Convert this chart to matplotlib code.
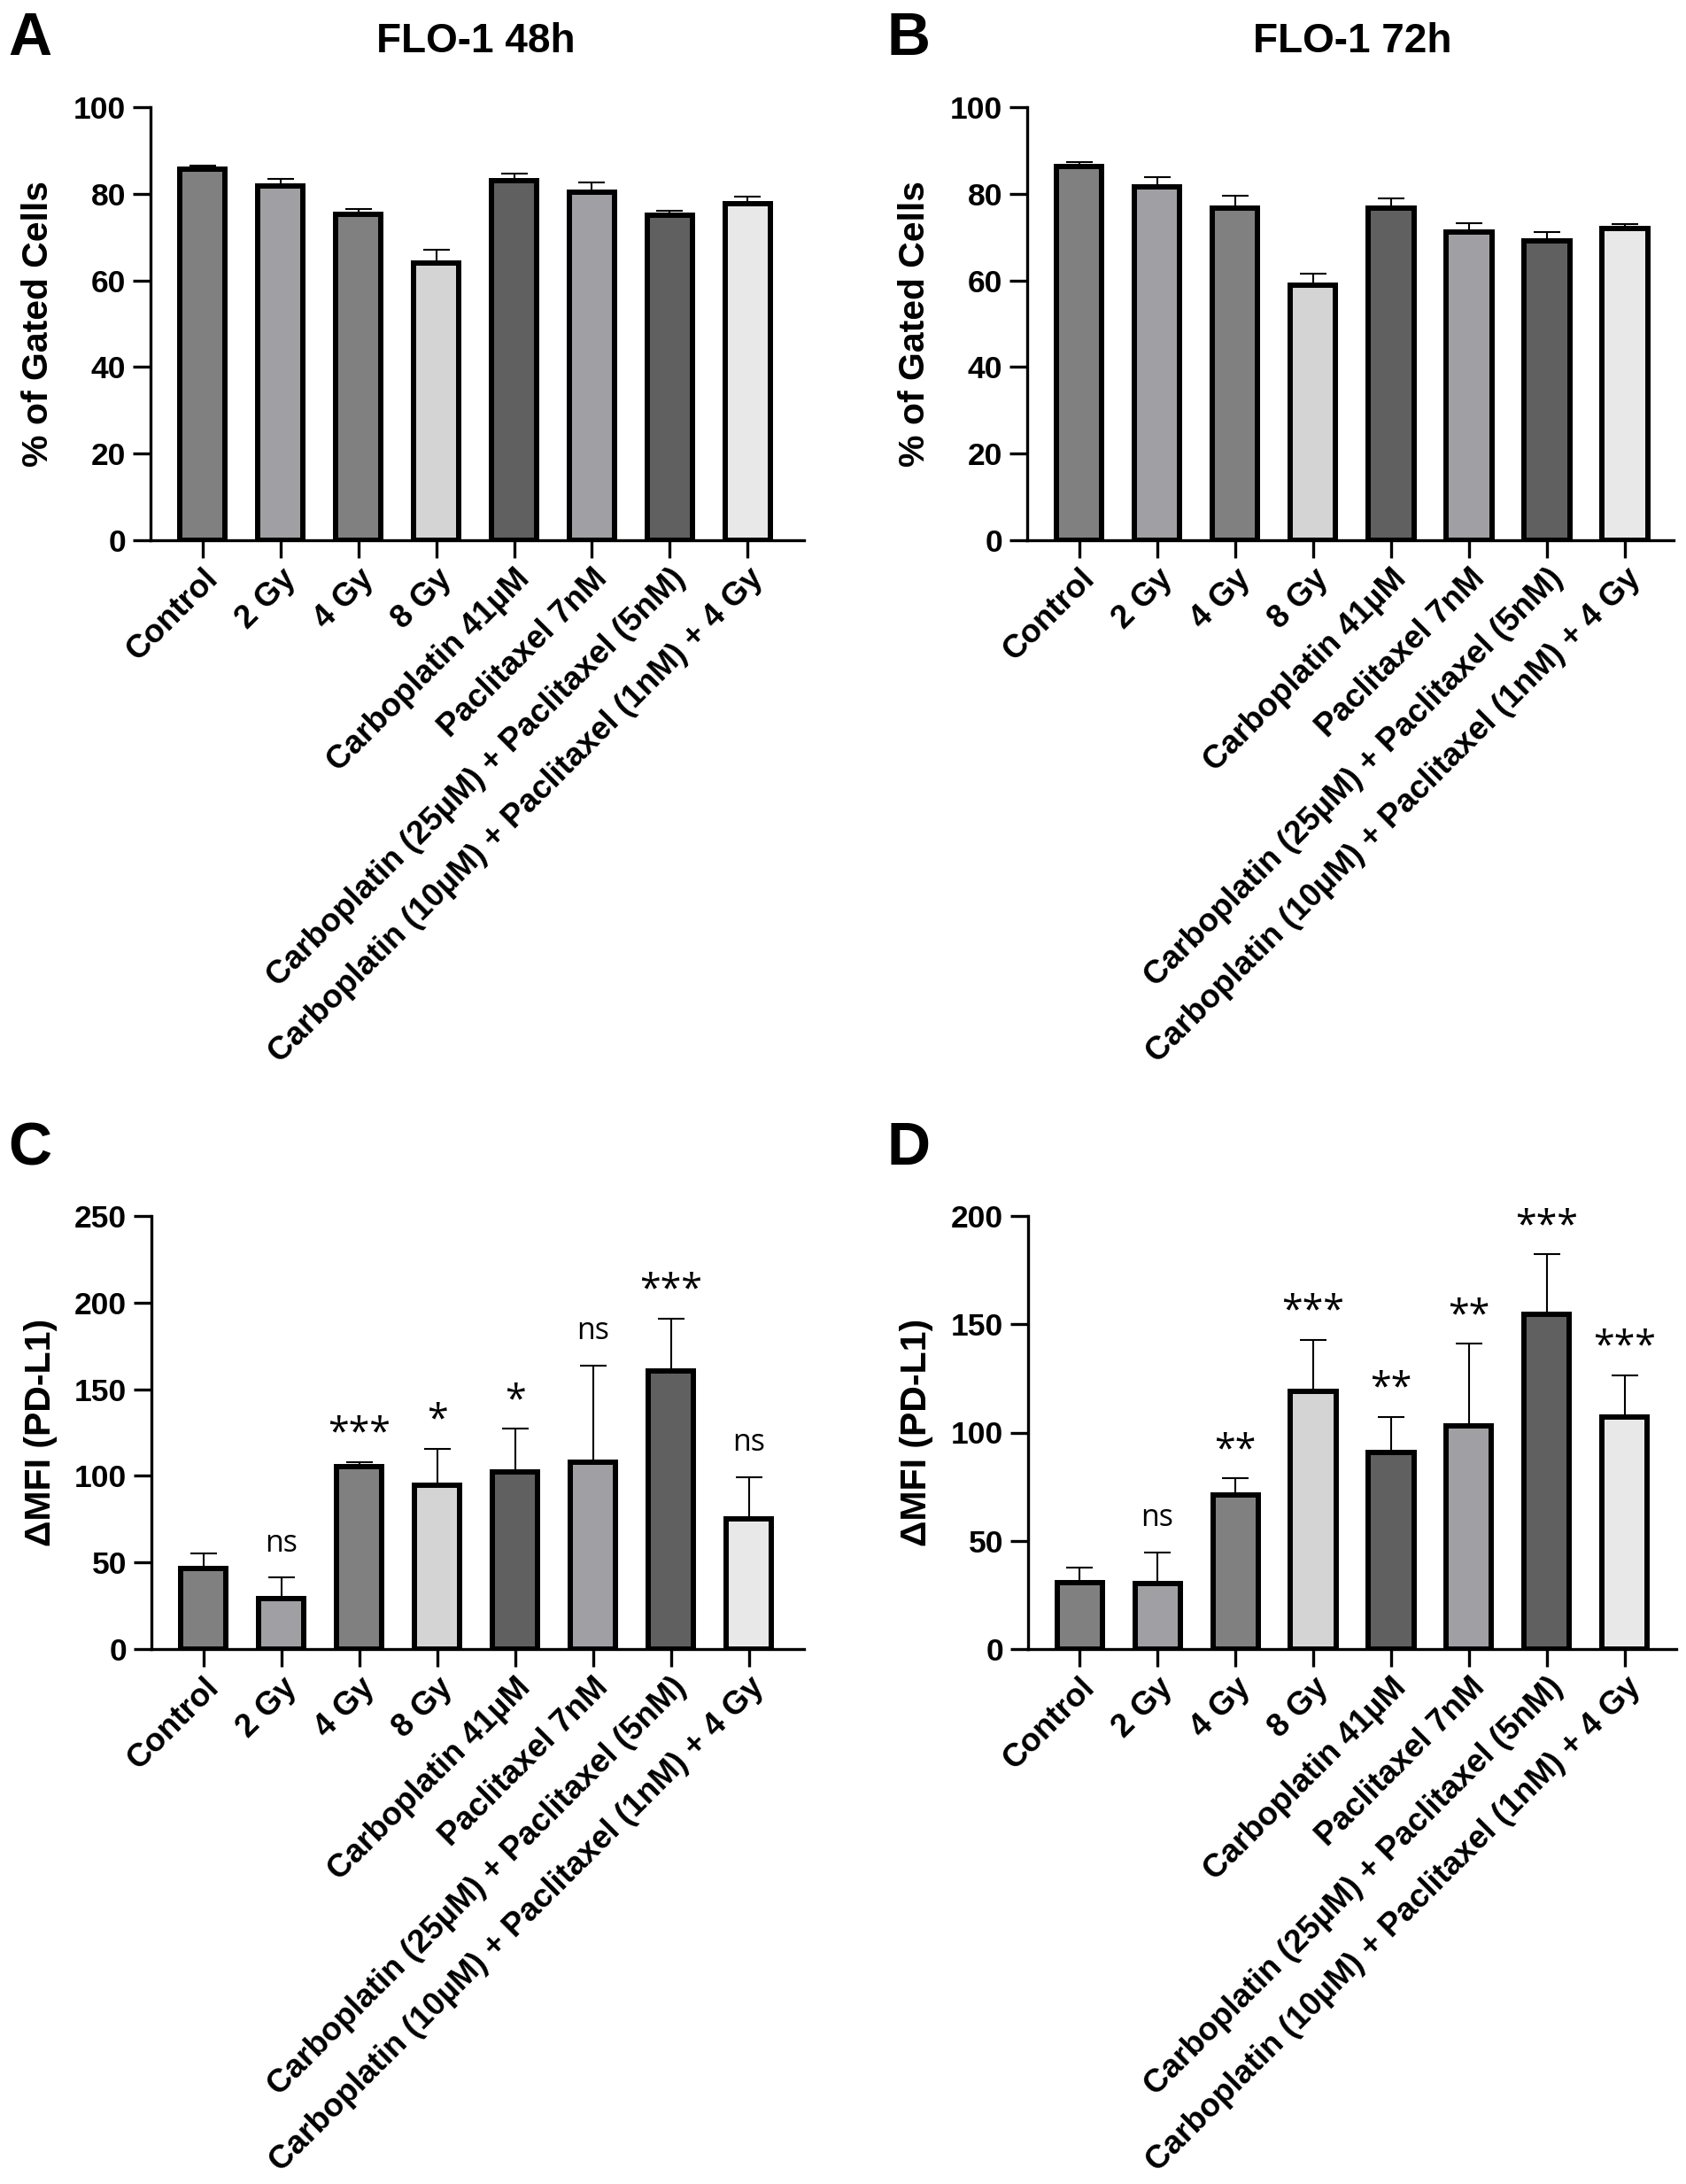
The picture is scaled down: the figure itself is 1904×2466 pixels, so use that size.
import numpy as np
import matplotlib
matplotlib.use('Agg')
import matplotlib.pyplot as plt
from matplotlib import transforms

# --- data ---
CATEGORIES = ['Control', '2 Gy', '4 Gy', '8 Gy', 'Carboplatin 41µM', 'Paclitaxel 7nM',
              'Carboplatin (25µM) + Paclitaxel (5nM)',
              'Carboplatin (10µM) + Paclitaxel (1nM) + 4 Gy']
BAR_COLORS = ['#808080', '#A0A0A4', '#808080', '#D4D4D4',
              '#606060', '#A0A0A4', '#606060', '#E8E8E8']

gated_48h = [85.6, 81.7, 75.2, 64.0, 83.0, 80.4, 75.1, 77.8]
gated_48h_sem = [1.0, 1.8, 1.2, 3.0, 1.7, 2.3, 0.9, 1.5]
gated_72h = [86.3, 81.5, 76.6, 58.8, 76.6, 71.2, 69.1, 71.9]
gated_72h_sem = [1.1, 2.4, 3.0, 2.8, 2.3, 2.0, 2.0, 1.2]

mfi_48h = [46.7, 29.3, 105.4, 94.8, 102.5, 107.7, 160.7, 75.3]
mfi_48h_sem = [8.7, 11.9, 2.6, 20.9, 24.7, 56.1, 30.1, 24.1]
mfi_72h = [30.7, 30.1, 71.2, 119.2, 91.0, 102.9, 154.5, 107.3]
mfi_72h_sem = [6.9, 14.6, 7.7, 23.6, 16.3, 38.0, 27.8, 19.2]

sig_48h = ['', 'ns', '***', '*', '*', 'ns', '***', 'ns']
sig_72h = ['', 'ns', '**', '***', '**', '**', '***', '***']

# --- figure setup ---
W, H, DPI = 1904, 2466, 100
plt.rcParams['font.family'] = ['Liberation Sans', 'DejaVu Sans']
plt.rcParams['font.weight'] = 'bold'

fig = plt.figure(figsize=(W / DPI, H / DPI), dpi=DPI, facecolor='white')


def px_axes(left, top, right, bottom):
    return fig.add_axes([left / W, 1 - bottom / H, (right - left) / W, (bottom - top) / H])


def bar_panel(ax, values, sem, ymax, ystep, ylabel, xlim, label_x, sig=None):
    x = np.arange(len(CATEGORIES))
    ax.errorbar(x, values, yerr=[np.zeros(len(values)), sem], fmt='none',
                ecolor='black', elinewidth=1.5, capsize=10.5, capthick=1.5, zorder=1)
    ax.bar(x, values, width=0.58, color=BAR_COLORS, edgecolor='black',
           linewidth=4.3, zorder=2)

    ax.set_xlim(*xlim)
    ax.set_ylim(0, ymax)
    ax.set_yticks(np.arange(0, ymax + 1, ystep))
    ax.set_xticks(x)
    ax.set_xticklabels(CATEGORIES, rotation=45, ha='right', va='top',
                       rotation_mode='anchor', fontsize=26.5, fontweight='bold')
    shift = transforms.ScaledTranslation(8 / DPI, 0, fig.dpi_scale_trans)
    for lbl in ax.get_xticklabels():
        lbl.set_transform(lbl.get_transform() + shift)

    for side in ['top', 'right']:
        ax.spines[side].set_visible(False)
    for side in ['left', 'bottom']:
        ax.spines[side].set_linewidth(2.4)
    ax.tick_params(axis='both', width=2.4, length=14.4)
    ax.tick_params(axis='y', pad=5.5, labelsize=25.5)
    ax.tick_params(axis='x', pad=4)

    ax.set_ylabel(ylabel, fontsize=29.5, fontweight='bold', va='center')
    ax.yaxis.set_label_coords(label_x, 0.5)

    if sig is not None:
        for xi, v, e, s in zip(x, values, sem, sig):
            if not s:
                continue
            if s == 'ns':
                off, size = 21.5, 24.5
            else:
                off, size = 14.5, 31
            ax.annotate(s, (xi, v + e), xytext=(0, off), textcoords='offset points',
                        ha='center', va='baseline', fontsize=size,
                        family=['Open Sans', 'DejaVu Sans'], fontweight='normal',
                        annotation_clip=False)


ax_a = px_axes(170, 121, 908, 610)
bar_panel(ax_a, gated_48h, gated_48h_sem, 100, 20, '% of Gated Cells',
          (-0.671, 7.725), -0.172)

ax_b = px_axes(1160, 121, 1890, 610)
bar_panel(ax_b, gated_72h, gated_72h_sem, 100, 20, '% of Gated Cells',
          (-0.67, 7.625), -0.174)

ax_c = px_axes(171, 1373, 908, 1862)
bar_panel(ax_c, mfi_48h, mfi_48h_sem, 250, 50, 'ΔMFI (PD-L1)',
          (-0.67, 7.71), -0.170, sig_48h)

ax_d = px_axes(1161, 1373, 1893, 1862)
bar_panel(ax_d, mfi_72h, mfi_72h_sem, 200, 50, 'ΔMFI (PD-L1)',
          (-0.66, 7.66), -0.172, sig_72h)

# titles and panel letters
fig.text(537 / W, 1 - 59 / H, 'FLO-1 48h', ha='center', va='baseline',
         fontsize=33, fontweight='bold')
fig.text(1527 / W, 1 - 59 / H, 'FLO-1 72h', ha='center', va='baseline',
         fontsize=33, fontweight='bold')
for letter, lx, ly in [('A', 9, 62), ('B', 1002, 62), ('C', 9, 1315), ('D', 1002, 1315)]:
    fig.text(lx / W, 1 - ly / H, letter, ha='left', va='baseline',
             fontsize=49, fontweight='bold')

fig.savefig('out.png', dpi=DPI, facecolor='white')
